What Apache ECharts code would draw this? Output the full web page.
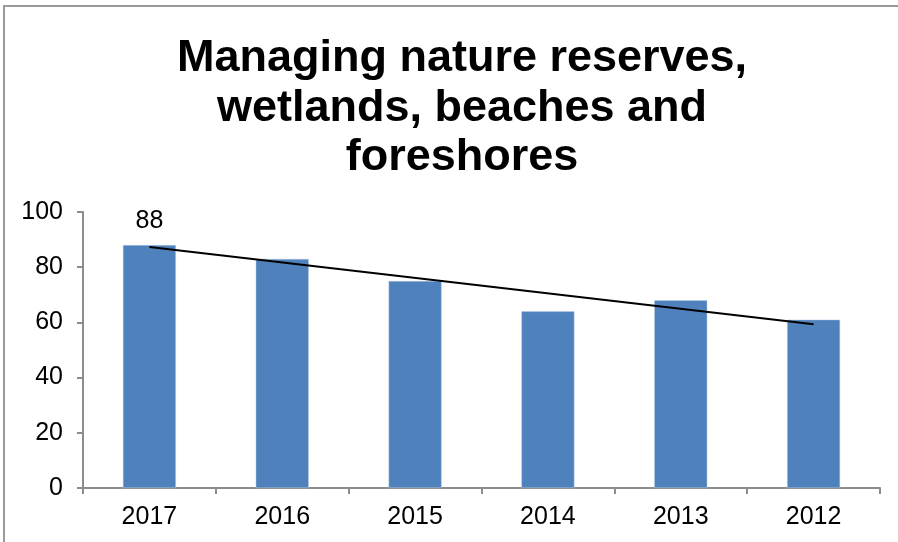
<!DOCTYPE html>
<html>
<head>
<meta charset="utf-8">
<style>
  html, body { margin: 0; padding: 0; background: #fff; }
  #box { width: 898px; height: 542px; }
</style>
<script src="https://cdn.jsdelivr.net/npm/echarts@6/dist/echarts.min.js"></script>
</head>
<body>
<div id="box"></div>
<script>
var years = ['2017', '2016', '2015', '2014', '2013', '2012'];
var values = [88, 83, 75, 64, 68, 61];
// trend line ends
var trend = [87.3, null, null, null, null, 59.3];
var yTicks = [0, 20, 40, 60, 80, 100];

var myChart = echarts.init(document.getElementById('box'));

var option = {
    backgroundColor: '#fff',
    animation: false,
    title: {
        text: 'Managing nature reserves,\nwetlands, beaches and\nforeshores',
        left: 457,
        textAlign: 'center',
        top: 29,
        textStyle: {
            fontFamily: 'Liberation Sans',
            fontSize: 45,
            fontWeight: 'bold',
            color: '#000',
            lineHeight: 49.5
        }
    },
    graphic: [{
        type: 'rect',
        shape: { x: 4, y: 6, width: 920, height: 600 },
        style: { fill: 'none', stroke: '#9a9a9a', lineWidth: 2 },
        silent: true
    }],
    grid: { left: 83, right: 18, top: 212, bottom: 54 },
    xAxis: {
        type: 'category',
        data: years,
        axisLine: { lineStyle: { color: '#8c8c8c', width: 2 } },
        axisTick: { show: true, length: 6, lineStyle: { color: '#8c8c8c', width: 2 } },
        axisLabel: { color: '#000', fontFamily: 'Liberation Sans', fontSize: 25, margin: 17 },
        splitLine: { show: false }
    },
    yAxis: {
        type: 'value',
        min: yTicks[0],
        max: yTicks[yTicks.length - 1],
        interval: 20,
        axisLine: { show: true, lineStyle: { color: '#8c8c8c', width: 2 } },
        axisTick: { show: true, length: 6, lineStyle: { color: '#8c8c8c', width: 2 } },
        axisLabel: { color: '#000', fontFamily: 'Liberation Sans', fontSize: 25, margin: 20 },
        splitLine: { show: false }
    },
    series: [{
        type: 'bar',
        data: values.map(function (v, i) {
            if (i === 0) {
                return { value: v, label: { show: true } };
            }
            return v;
        }),
        barWidth: 53,
        itemStyle: { color: '#4f81bd', borderColor: '#b9cde5', borderWidth: 0.5 },
        label: {
            show: false,
            position: 'top',
            distance: 12,
            color: '#000',
            fontFamily: 'Liberation Sans',
            fontSize: 25
        }
    }, {
        type: 'line',
        data: trend,
        connectNulls: true,
        symbol: 'none',
        lineStyle: { color: '#000', width: 2 },
        z: 5
    }]
};

myChart.setOption(option);
</script>
</body>
</html>
